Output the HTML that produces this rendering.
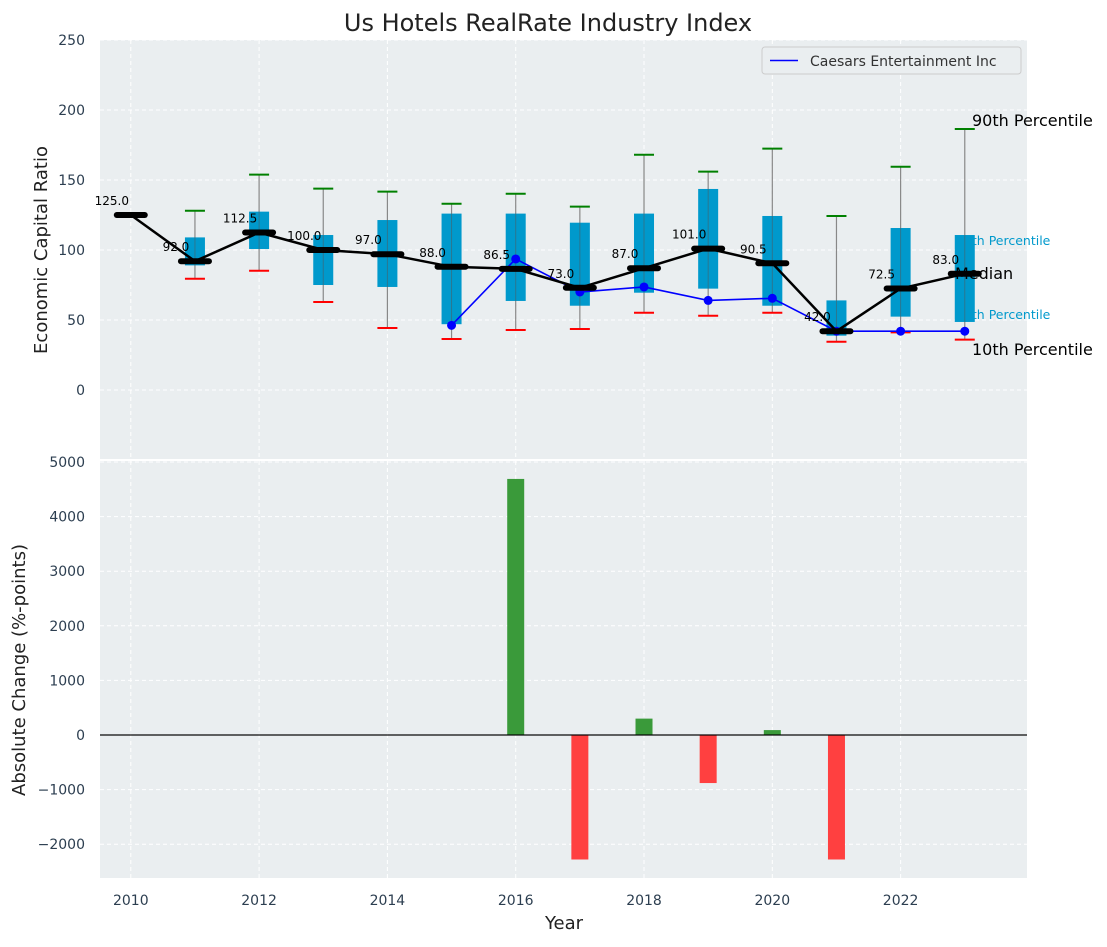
<!DOCTYPE html>
<html><head><meta charset="utf-8"><style>
body{margin:0;background:#fff;font-family:"Liberation Sans","DejaVu Sans",sans-serif;}
svg text{font-family:"DejaVu Sans","Liberation Sans",sans-serif;}
</style></head><body>
<svg id="chart" width="1107" height="942" xmlns="http://www.w3.org/2000/svg"></svg>
<script>
const years=[2010,2011,2012,2013,2014,2015,2016,2017,2018,2019,2020,2021,2022,2023];
const medians=[125,92,112.5,100,97,88,86.5,73,87,101,90.5,42,72.5,83];
const q1=[null,89,100.7,75,73.6,47,63.6,60.2,69.5,72.4,60.2,38.8,52.4,48.6];
const q3=[null,109,127.4,110.7,121.4,126,126,119.5,126,143.6,124.3,64,115.7,110.7];
const p10=[null,79.5,85.2,62.9,44.3,36.4,42.9,43.6,55.2,53,55.2,34.5,41.2,36];
const p90=[null,128,153.8,143.8,141.7,133,140.2,131,168,156,172.4,124.3,159.5,186.4];
const caesars=[null,null,null,null,null,46.2,93.6,70,73.6,64,65.5,42,42,42];
const changes=[0,0,0,0,0,0,4690,-2280,300,-880,90,-2280,0,0];
const topTicks=[0,50,100,150,200,250];
const botTicks=[-2000,-1000,0,1000,2000,3000,4000,5000];
const xTicks=[2010,2012,2014,2016,2018,2020,2022];

const NS="http://www.w3.org/2000/svg";
const svg=document.getElementById('chart');
function el(t,a,txt){const e=document.createElementNS(NS,t);for(const k in a)e.setAttribute(k,a[k]);if(txt!==undefined)e.textContent=txt;svg.appendChild(e);return e;}
const L=100,R=1027,T1=40,B1=459,T2=461,B2=878;
const X=v=>L+(v-2009.52)*(R-L)/(2023.97-2009.52);
const Y1=v=>390-1.4*v;
const Y2=v=>735-0.0546*v;

let e;
e=el('rect',{x:L,y:T1,width:R-L,height:B1-T1,fill:'#eaeef0'});

e=el('rect',{x:L,y:T2,width:R-L,height:B2-T2,fill:'#eaeef0'});

xTicks.forEach(t=>{
  el('line',{x1:X(t),x2:X(t),y1:T1,y2:B1,stroke:'#fff','stroke-dasharray':'4,3','stroke-width':1});
  el('line',{x1:X(t),x2:X(t),y1:T2,y2:B2,stroke:'#fff','stroke-dasharray':'4,3','stroke-width':1});
  e=el('text',{x:X(t),y:905,'font-size':14,fill:'#2c3e50','text-anchor':'middle'},t);
  
});
topTicks.forEach(t=>{
  el('line',{x1:L,x2:R,y1:Y1(t),y2:Y1(t),stroke:'#fff','stroke-dasharray':'4,3','stroke-width':1});
  e=el('text',{x:85,y:Y1(t)+5,'font-size':14,fill:'#2c3e50','text-anchor':'end'},t);
  
});
botTicks.forEach(t=>{
  el('line',{x1:L,x2:R,y1:Y2(t),y2:Y2(t),stroke:'#fff','stroke-dasharray':'4,3','stroke-width':1});
  e=el('text',{x:85,y:Y2(t)+5,'font-size':14,fill:'#2c3e50','text-anchor':'end'},String(t).replace('-','\u2212'));
  
});
e=el('text',{x:956,y:245,'font-size':12.5,fill:'#0099cc'},'75th Percentile');

e=el('text',{x:956,y:319,'font-size':12.5,fill:'#0099cc'},'25th Percentile');

years.forEach((yr,i)=>{
  if(q1[i]===null)return;
  const x=X(yr);
  e=el('line',{x1:x,x2:x,y1:Y1(p10[i]),y2:Y1(p90[i]),stroke:'#888','stroke-width':1.2});
  
  e=el('line',{x1:x-10,x2:x+10,y1:Y1(p90[i]),y2:Y1(p90[i]),stroke:'green','stroke-width':2});
  
  e=el('line',{x1:x-10,x2:x+10,y1:Y1(p10[i]),y2:Y1(p10[i]),stroke:'red','stroke-width':2});
  
  e=el('rect',{x:x-10,y:Y1(q3[i]),width:20,height:Y1(q1[i])-Y1(q3[i]),fill:'#0099cc'});
  
  el('line',{x1:x,x2:x,y1:Y1(q1[i]),y2:Y1(q3[i]),stroke:'#555','stroke-width':1,opacity:0.5});
});
let pts=[];years.forEach((yr,i)=>{if(caesars[i]!==null)pts.push(X(yr)+','+Y1(caesars[i]));});
e=el('polyline',{points:pts.join(' '),fill:'none',stroke:'blue','stroke-width':1.6});

years.forEach((yr,i)=>{if(caesars[i]===null)return;
  e=el('circle',{cx:X(yr),cy:Y1(caesars[i]),r:4.5,fill:'blue'});
  });
e=el('polyline',{points:years.map((yr,i)=>X(yr)+','+Y1(medians[i])).join(' '),fill:'none',stroke:'#000','stroke-width':2.5});

years.forEach((yr,i)=>{
  const x=X(yr),y=Y1(medians[i]);
  e=el('line',{x1:x-14,x2:x+14,y1:y,y2:y,stroke:'#000','stroke-width':6,'stroke-linecap':'round'});
  
  e=el('text',{x:x-19,y:y-10,'font-size':12,fill:'#000','text-anchor':'middle'},medians[i].toFixed(1));
  
});
e=el('text',{x:972,y:126,'font-size':16,fill:'#000'},'90th Percentile');

e=el('text',{x:955,y:279,'font-size':16,fill:'#000'},'Median');

e=el('text',{x:972,y:355,'font-size':16,fill:'#000'},'10th Percentile');

e=el('rect',{x:762,y:47,width:259,height:27,rx:3,fill:'#eaeef0',stroke:'#ccc'});

el('line',{x1:770,x2:798,y1:60.5,y2:60.5,stroke:'blue','stroke-width':1.6});
e=el('text',{x:810,y:66,'font-size':14,fill:'#333'},'Caesars Entertainment Inc');

years.forEach((yr,i)=>{
  const v=changes[i]; if(v===0)return;
  const y0=Y2(0),y=Y2(v);
  e=el('rect',{x:X(yr)-8.5,y:Math.min(y0,y),width:17,height:Math.abs(y-y0),fill:v>0?'#3a9a3a':'#ff4040'});
  
});
e=el('rect',{x:L,y:Y2(0)-0.6,width:R-L,height:1.2,fill:'#000'});

e=el('text',{x:548,y:31,'font-size':24,fill:'#222','text-anchor':'middle'},'Us Hotels RealRate Industry Index');

e=el('text',{x:0,y:0,'font-size':18,fill:'#222','text-anchor':'middle',transform:'translate(47,250) rotate(-90)'},'Economic Capital Ratio');

e=el('text',{x:0,y:0,'font-size':18,fill:'#222','text-anchor':'middle',transform:'translate(25,670) rotate(-90)'},'Absolute Change (%-points)');

e=el('text',{x:564,y:929,'font-size':18,fill:'#222','text-anchor':'middle'},'Year');

</script>
</body></html>
